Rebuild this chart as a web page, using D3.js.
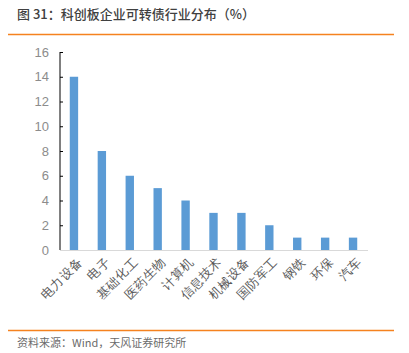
<!DOCTYPE html>
<html>
<head>
<meta charset="utf-8">
<script src="https://cdn.jsdelivr.net/npm/d3@7"></script>
<style>
  body { margin: 0; background: #fff; }
  svg { display: block; font-family: "Noto Sans CJK SC", "Noto Sans", sans-serif; }
</style>
</head>
<body>
<svg id="chart" width="409" height="353"></svg>
<script>
// industries and share of STAR-market convertible bonds (%)
const industries = ["电力设备", "电子", "基础化工", "医药生物", "计算机", "信息技术", "机械设备", "国防军工", "钢铁", "环保", "汽车"];
const shares = [14, 8, 6, 5, 4, 3, 3, 2, 1, 1, 1];
const yTicks = [0, 2, 4, 6, 8, 10, 12, 14, 16];

const svg = d3.select("#chart");
const margin = {left: 60, right: 42, top: 52, bottom: 103};
const width = 409, height = 353;

// title + orange rules
svg.append("text")
  .attr("x", 17).attr("y", 19)
  .attr("font-size", 13).attr("font-weight", 500).attr("fill", "#404040")
  .text("图 31：科创板企业可转债行业分布（%）");
svg.append("line").attr("x1", 8).attr("x2", 394).attr("y1", 34.5).attr("y2", 34.5)
  .attr("stroke", "#f5821f").attr("stroke-width", 1.5);
svg.append("line").attr("x1", 8).attr("x2", 394).attr("y1", 330.5).attr("y2", 330.5)
  .attr("stroke", "#f5821f").attr("stroke-width", 1.5);
svg.append("text")
  .attr("x", 17).attr("y", 347)
  .attr("font-size", 11).attr("fill", "#6b6b6b")
  .text("资料来源：Wind，天风证券研究所");

const x = d3.scaleBand()
  .domain(industries)
  .range([margin.left, width - margin.right])
  .paddingInner(0.7).paddingOuter(0.35);

const y = d3.scaleLinear()
  .domain([0, 16])
  .range([height - margin.bottom, margin.top]);

// bars
svg.append("g").selectAll("rect")
  .data(industries)
  .join("rect")
    .attr("x", d => x(d))
    .attr("width", x.bandwidth())
    .attr("y", (d, i) => y(shares[i]))
    .attr("height", (d, i) => y(0) - y(shares[i]))
    .attr("fill", "#5b9bd5");

// y axis
const yAxis = svg.append("g")
  .attr("transform", `translate(${margin.left},0)`)
  .call(d3.axisLeft(y).tickValues(yTicks).tickSize(-3).tickPadding(10));
yAxis.select(".domain").attr("stroke", "#000").attr("d", `M0,${y(16)}V${y(0)}`);
yAxis.selectAll(".tick line").attr("stroke", "#000");
yAxis.selectAll(".tick text")
  .attr("font-size", 13).attr("fill", "#8c8c8c")
  .attr("font-family", "Liberation Sans, sans-serif")
  .attr("x", -11);

// x axis
const xAxis = svg.append("g")
  .attr("transform", `translate(0,${y(0)})`)
  .call(d3.axisBottom(x).tickSize(0).tickPadding(0));
xAxis.select(".domain").attr("stroke", "#d9d9d9").attr("d", `M${margin.left},0.5H${width - margin.right + 1}`);
xAxis.selectAll(".tick text")
  .attr("font-size", 12.5).attr("fill", "#595959")
  .attr("text-anchor", "end")
  .attr("dy", 0)
  .attr("transform", "translate(9,13) rotate(-45)");
</script>
</body>
</html>
